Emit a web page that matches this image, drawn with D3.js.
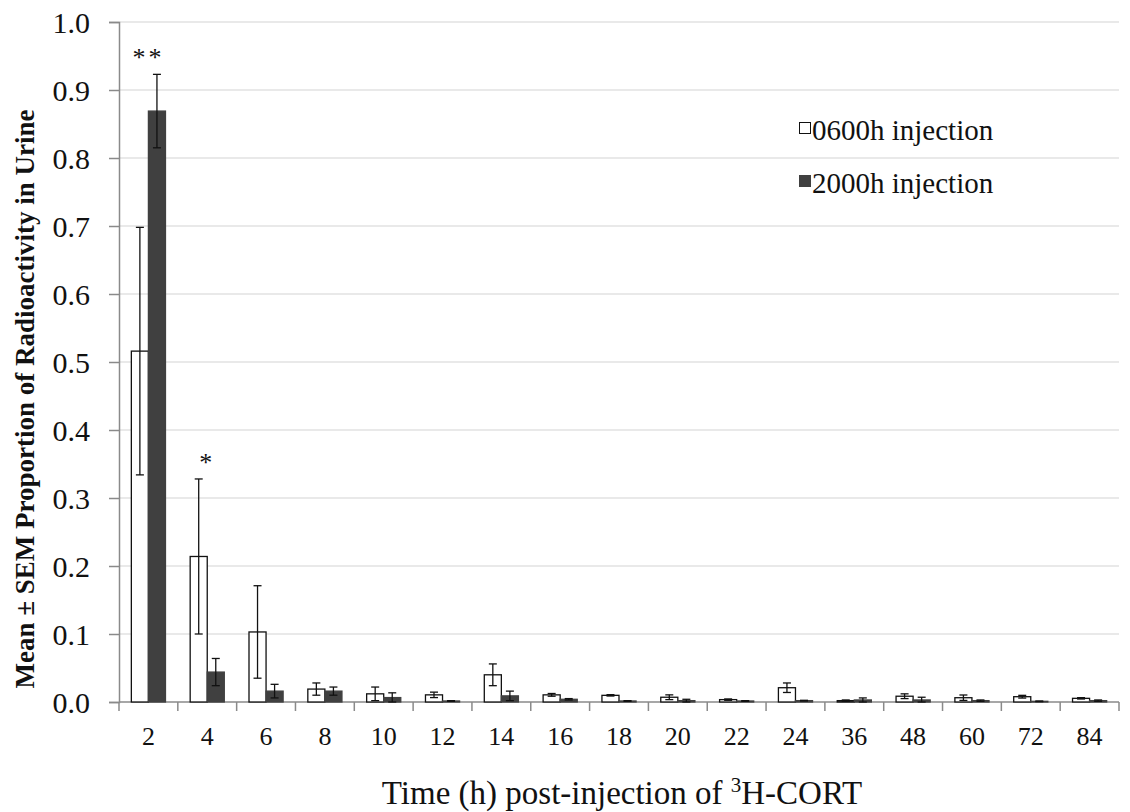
<!DOCTYPE html>
<html>
<head>
<meta charset="utf-8">
<script src="https://cdn.jsdelivr.net/npm/d3@7"></script>
<style>
  html, body { margin: 0; padding: 0; background: #fff; }
  svg { display: block; }
  text { font-family: "Liberation Serif", "Times New Roman", serif; fill: #111; }
</style>
</head>
<body>
<svg id="chart" width="1130" height="812"></svg>
<script>
// Sampling times (h) after injection
const hours = ["2", "4", "6", "8", "10", "12", "14", "16", "18", "20", "22", "24", "36", "48", "60", "72", "84"];

// Mean proportion of radioactivity in urine, morning (0600h) injection
const morningMean = [0.516, 0.214, 0.103, 0.019, 0.012, 0.0105, 0.040, 0.0105, 0.0098, 0.007, 0.0035, 0.021, 0.002, 0.0085, 0.0063, 0.0078, 0.0054];
const morningSem  = [0.182, 0.114, 0.068, 0.009, 0.010, 0.004, 0.016, 0.002, 0.001, 0.0035, 0.001, 0.007, 0.001, 0.0035, 0.004, 0.002, 0.001];

// Mean proportion of radioactivity in urine, evening (2000h) injection
const eveningMean = [0.869, 0.044, 0.016, 0.016, 0.0065, 0.0015, 0.009, 0.004, 0.0015, 0.002, 0.0015, 0.002, 0.003, 0.003, 0.002, 0.001, 0.002];
const eveningSem  = [0.054, 0.020, 0.010, 0.006, 0.007, 0.0005, 0.007, 0.001, 0.0005, 0.002, 0.0005, 0.0005, 0.003, 0.004, 0.001, 0.0005, 0.001];

// Significance markers above the pairs
const marks = [{ hour: "2", text: "**" }, { hour: "4", text: "*" }];

const yTicks = [0, 0.1, 0.2, 0.3, 0.4, 0.5, 0.6, 0.7, 0.8, 0.9, 1.0];

const svg = d3.select("#chart");
const margin = { left: 119, right: 11, top: 22, bottom: 110 };
const W = 1130, H = 812;
const plotW = W - margin.left - margin.right;
const plotH = H - margin.top - margin.bottom;

const g = svg.append("g").attr("transform", `translate(${margin.left},${margin.top})`);

const x = d3.scaleBand().domain(hours).range([0, plotW]).padding(0);
const y = d3.scaleLinear().domain([0, 1]).range([plotH, 0]);
const barW = x.bandwidth() * 0.29;

// Horizontal gridlines
g.append("g")
  .selectAll("line")
  .data(yTicks.filter(d => d > 0))
  .join("line")
  .attr("x1", 0).attr("x2", plotW)
  .attr("y1", d => y(d)).attr("y2", d => y(d))
  .attr("stroke", "#d4d4d4").attr("stroke-width", 1.2);

// Y axis
const yAxis = g.append("g")
  .call(d3.axisLeft(y).tickValues(yTicks).tickFormat(d3.format(".1f")).tickSize(10).tickPadding(19));
yAxis.select(".domain").attr("stroke", "#8a8a8a").attr("stroke-width", 1.5);
yAxis.selectAll(".tick line").attr("stroke", "#8a8a8a").attr("stroke-width", 1.5);
yAxis.selectAll(".tick text")
  .style("font-family", "'Liberation Serif', serif")
  .style("font-size", "30px").attr("fill", "#111").attr("dy", "0.34em");

// X axis: ticks sit on the category boundaries
const xAxis = g.append("g").attr("transform", `translate(0,${plotH})`);
xAxis.append("line")
  .attr("x1", 0).attr("x2", plotW).attr("y1", 0).attr("y2", 0)
  .attr("stroke", "#8a8a8a").attr("stroke-width", 1.5);
const boundaries = hours.map(h => x(h)).concat([x(hours[hours.length - 1]) + x.bandwidth()]);
xAxis.selectAll("line.tk")
  .data(boundaries)
  .join("line").attr("class", "tk")
  .attr("x1", d => d).attr("x2", d => d).attr("y1", 0).attr("y2", 9)
  .attr("stroke", "#8a8a8a").attr("stroke-width", 1.5);
xAxis.selectAll("text.lbl")
  .data(hours)
  .join("text").attr("class", "lbl")
  .attr("x", d => x(d) + x.bandwidth() / 2)
  .attr("y", 43)
  .attr("text-anchor", "middle")
  .style("font-size", "26px")
  .text(d => d);

// Bars
const series = [
  { mean: morningMean, sem: morningSem, fill: "#ffffff", offset: -barW },
  { mean: eveningMean, sem: eveningSem, fill: "#404040", offset: 0 }
];

series.forEach(s => {
  const data = hours.map((h, i) => ({ h, v: s.mean[i], e: s.sem[i] }));
  const cx = d => x(d.h) + x.bandwidth() / 2 + s.offset;
  g.append("g").selectAll("rect")
    .data(data)
    .join("rect")
    .attr("x", cx)
    .attr("y", d => y(d.v))
    .attr("width", barW)
    .attr("height", d => y(0) - y(d.v))
    .attr("fill", s.fill)
    .attr("stroke", s.fill === "#ffffff" ? "#111" : "#404040")
    .attr("stroke-width", 1.3);

  // Error bars
  const eb = g.append("g").selectAll("g").data(data).join("g");
  const mid = d => cx(d) + barW / 2;
  eb.append("line")
    .attr("x1", mid).attr("x2", mid)
    .attr("y1", d => y(d.v + d.e)).attr("y2", d => y(Math.max(0, d.v - d.e)))
    .attr("stroke", "#111").attr("stroke-width", 1.3);
  [1, -1].forEach(sign => {
    eb.append("line")
      .attr("x1", d => mid(d) - 4).attr("x2", d => mid(d) + 4)
      .attr("y1", d => y(Math.max(0, d.v + sign * d.e)))
      .attr("y2", d => y(Math.max(0, d.v + sign * d.e)))
      .attr("stroke", "#111").attr("stroke-width", 1.3);
  });
});

// Significance asterisks
marks.forEach(m => {
  const i = hours.indexOf(m.hour);
  const top = Math.max(morningMean[i] + morningSem[i], eveningMean[i] + eveningSem[i]);
  g.append("text")
    .attr("x", x(m.hour) + x.bandwidth() / 2)
    .attr("y", y(top) - 8)
    .attr("text-anchor", "middle")
    .style("font-size", "26px")
    .style("letter-spacing", "3px")
    .text(m.text);
});

// Legend
const legend = [
  { label: "0600h injection", fill: "#ffffff", stroke: "#111" },
  { label: "2000h injection", fill: "#404040", stroke: "#404040" }
];
const lg = svg.append("g").attr("transform", "translate(799,122)");
legend.forEach((d, i) => {
  const row = lg.append("g").attr("transform", `translate(0,${i * 53})`);
  row.append("rect").attr("x", 0.5).attr("y", 0.5).attr("width", 11).attr("height", 11)
    .attr("fill", d.fill).attr("stroke", d.stroke).attr("stroke-width", 1);
  row.append("text").attr("x", 13).attr("y", 18).style("font-size", "29px").text(d.label);
});

// Axis titles
svg.append("text")
  .attr("transform", `translate(34,399) rotate(-90)`)
  .attr("text-anchor", "middle")
  .style("font-size", "27px").style("font-weight", "bold")
  .text("Mean ± SEM Proportion of Radioactivity in Urine");

const xt = svg.append("text")
  .attr("x", 622).attr("y", 804)
  .attr("text-anchor", "middle")
  .style("font-size", "33px");
xt.append("tspan").text("Time (h) post-injection of ");
xt.append("tspan").attr("dy", -12).style("font-size", "21px").text("3");
xt.append("tspan").attr("dy", 12).text("H-CORT");
</script>
</body>
</html>
